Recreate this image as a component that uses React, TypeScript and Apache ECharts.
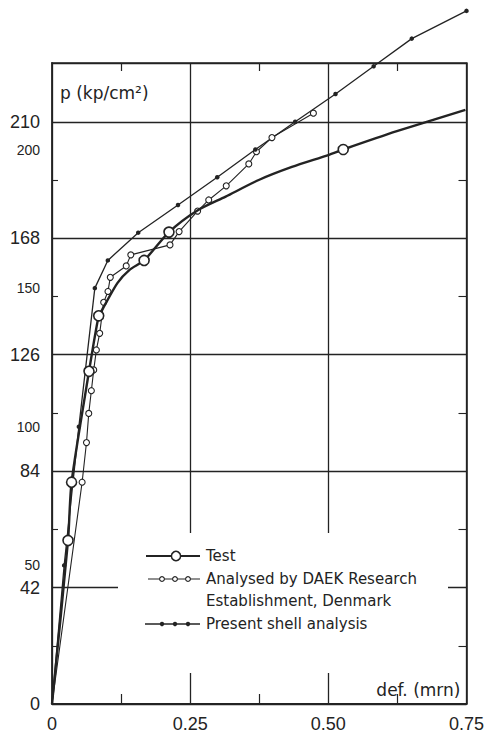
import React, { useEffect, useRef } from 'react';
import * as echarts from 'echarts';

// ---- data ----
const X_MIN = 0;
const X_MAX = 0.75;
const X_STEP = 0.25;
const Y_MAX = 231.2;
const Y_GRID_STEP = 42;
const Y_LABELS_BIG = [0, 42, 84, 126, 168, 210];
const Y_LABELS_SMALL = [50, 100, 150, 200];
const Y_TICKS_LEFT = [21, 63, 105, 147, 189];
const Y_TICKS_RIGHT = [21, 63, 105, 147, 189];

const SERIES_NAMES = ['Test', 'Analysed by DAEK Research Establishment, Denmark', 'Present shell analysis'];
const LEGEND_LINES = ['Test', 'Analysed by DAEK Research', 'Establishment, Denmark', 'Present shell analysis'];
const X_NAME = 'def. (mrn)';
const Y_NAME = 'p (kp/cm²)';

// Test (measured curve, large open circles on measured points)
const TEST_DEF = [0, 0.029, 0.0354, 0.067, 0.0845, 0.0905, 0.1183, 0.1403, 0.1667, 0.2117, 0.2631, 0.3142, 0.3741, 0.4341, 0.5, 0.527, 0.624, 0.748];
const TEST_P = [0, 59, 80, 120, 140, 142.1, 151.8, 156.6, 160, 170.2, 178, 183, 189, 193.7, 198, 200, 206.6, 214.3];
const TEST_MARK = [0, 1, 1, 1, 1, 0, 0, 0, 1, 1, 0, 0, 0, 0, 0, 1, 0, 0];

// Analysed by DAEK
const ANA_DEF = [0, 0.0545, 0.0624, 0.0665, 0.0712, 0.0755, 0.0803, 0.0863, 0.0935, 0.1013, 0.1055, 0.1343, 0.1426, 0.2135, 0.23, 0.2635, 0.2836, 0.3153, 0.3561, 0.37, 0.398, 0.473];
const ANA_P = [0, 80, 94.3, 104.8, 113, 120.5, 127.7, 133.7, 144.9, 148.8, 153.9, 158, 162, 165.6, 170.4, 177.8, 181.8, 186.9, 194.8, 199.2, 204.3, 213.1];
const ANA_MARK = [0, 1, 1, 1, 1, 1, 1, 1, 1, 1, 1, 1, 1, 1, 1, 1, 1, 1, 1, 1, 1, 1];

// Present shell analysis
const PRES_DEF = [0, 0.022, 0.0486, 0.0775, 0.101, 0.156, 0.228, 0.299, 0.368, 0.44, 0.513, 0.582, 0.651, 0.75];
const PRES_P = [0, 50, 100, 150, 160, 170, 180, 190, 200, 210, 220, 230, 240, 250];
const PRES_MARK = [0, 1, 1, 1, 1, 1, 1, 1, 1, 1, 1, 1, 1, 1];

const INK = '#232323';
const NUM_FONT = '"Liberation Sans", Arial, sans-serif';
const TXT_FONT = '"DejaVu Sans", sans-serif';

function build(def: number[], p: number[], mark: number[]) {
  return def.map((d, i) => ({ value: [d, p[i]], symbol: mark[i] ? 'circle' : 'none' }));
}

function legendText(text: string, x: number, y: number) {
  return {
    type: 'text',
    z: 6,
    silent: true,
    x,
    y,
    style: { text, font: `15px ${TXT_FONT}`, fill: INK, verticalAlign: 'middle', align: 'left' },
  };
}

export default function App() {
  const ref = useRef<HTMLDivElement>(null);

  useEffect(() => {
    if (!ref.current) return;
    const chart = echarts.init(ref.current, null, { renderer: 'svg' });

    const yBase = {
      type: 'value',
      min: 0,
      max: Y_MAX,
      interval: Y_GRID_STEP,
    };

    const openDot = (cx: number, cy: number, r: number) => ({
      type: 'circle', z: 7, silent: true, shape: { cx, cy, r }, style: { fill: '#fff', stroke: INK, lineWidth: 1.1 },
    });
    const fullDot = (cx: number, cy: number, r: number) => ({
      type: 'circle', z: 7, silent: true, shape: { cx, cy, r }, style: { fill: INK },
    });

    const option: any = {
      animation: false,
      backgroundColor: '#ffffff',
      grid: { left: 52, right: 18, top: 63, bottom: 34, containLabel: false },
      xAxis: [
        {
          type: 'value',
          min: X_MIN,
          max: X_MAX,
          interval: X_STEP,
          position: 'bottom',
          axisLine: { show: true, onZero: false, lineStyle: { color: INK, width: 1.8 } },
          axisTick: { show: false, inside: true },
          minorTick: { show: true, splitNumber: 2, length: 10, lineStyle: { color: INK, width: 1.2 } },
          axisLabel: {
            show: true,
            margin: 11,
            fontSize: 18,
            fontFamily: NUM_FONT,
            color: INK,
            showMinLabel: true,
            showMaxLabel: true,
            formatter: (v: number) => (v === 0 ? '0' : v.toFixed(2)),
          },
          splitLine: { show: true, lineStyle: { color: INK, width: 1.3 } },
          name: X_NAME,
          nameLocation: 'end',
          nameGap: -6,
          nameTextStyle: {
            fontSize: 17,
            fontFamily: TXT_FONT,
            color: INK,
            align: 'right',
            verticalAlign: 'bottom',
            padding: [0, 0, 6, 0],
          },
        },
        {
          type: 'value',
          min: X_MIN,
          max: X_MAX,
          interval: X_STEP,
          position: 'top',
          axisLine: { show: true, onZero: false, lineStyle: { color: INK, width: 1.6 } },
          axisTick: { show: false, inside: true },
          minorTick: { show: true, splitNumber: 2, length: 8, lineStyle: { color: INK, width: 1.2 } },
          axisLabel: { show: false },
          splitLine: { show: false },
        },
      ],
      yAxis: [
        {
          ...yBase,
          position: 'left',
          axisLine: { show: true, onZero: false, lineStyle: { color: INK, width: 1.8 } },
          axisTick: { show: true, inside: true, length: 6, customValues: Y_TICKS_LEFT, lineStyle: { color: INK, width: 1.1 } },
          axisLabel: {
            show: true,
            margin: 12,
            color: INK,
            customValues: [...Y_LABELS_BIG, ...Y_LABELS_SMALL].sort((a, b) => a - b),
            formatter: (v: number) => (Y_LABELS_SMALL.indexOf(v) >= 0 ? `{s|${v}}` : `{b|${v}}`),
            rich: {
              b: { fontSize: 18, fontFamily: NUM_FONT, color: INK },
              s: { fontSize: 14, fontFamily: NUM_FONT, color: INK },
            },
          },
          splitLine: { show: false },
          name: Y_NAME,
          nameLocation: 'end',
          nameGap: -30,
          nameTextStyle: {
            fontSize: 17,
            fontFamily: TXT_FONT,
            color: INK,
            align: 'left',
            verticalAlign: 'middle',
            padding: [0, 0, 0, 8],
          },
        },
        {
          ...yBase,
          position: 'right',
          axisLine: { show: true, onZero: false, lineStyle: { color: INK, width: 1.6 } },
          axisTick: { show: true, inside: true, length: 8, customValues: Y_TICKS_RIGHT, lineStyle: { color: INK, width: 1.1 } },
          axisLabel: { show: false },
          splitLine: { show: false },
        },
        {
          ...yBase,
          position: 'left',
          axisLine: { show: false },
          axisTick: { show: false },
          axisLabel: { show: false },
          splitLine: { show: true, lineStyle: { color: INK, width: 1.3 } },
        },
      ],
      graphic: {
        elements: [
          {
            type: 'rect',
            z: 1,
            silent: true,
            shape: { x: 118, y: 533, width: 330, height: 140 },
            style: { fill: '#ffffff' },
          },
          // Test
          { type: 'line', z: 6, silent: true, shape: { x1: 146, y1: 556, x2: 200, y2: 556 }, style: { stroke: INK, lineWidth: 2.2 } },
          { type: 'circle', z: 7, silent: true, shape: { cx: 176, cy: 556, r: 4.6 }, style: { fill: '#fff', stroke: INK, lineWidth: 1.5 } },
          // Analysed
          { type: 'line', z: 6, silent: true, shape: { x1: 148, y1: 579, x2: 200, y2: 579 }, style: { stroke: INK, lineWidth: 1.2 } },
          openDot(162, 579, 2.4),
          openDot(175, 579, 2.4),
          openDot(188, 579, 2.4),
          // Present
          { type: 'line', z: 6, silent: true, shape: { x1: 145, y1: 624, x2: 200, y2: 624 }, style: { stroke: INK, lineWidth: 1.3 } },
          fullDot(162, 624, 2.2),
          fullDot(175, 624, 2.2),
          fullDot(188, 624, 2.2),
          legendText(LEGEND_LINES[0], 206, 556),
          legendText(LEGEND_LINES[1], 206, 579),
          legendText(LEGEND_LINES[2], 206, 601),
          legendText(LEGEND_LINES[3], 206, 624),
        ],
      },
      series: [
        {
          name: SERIES_NAMES[0],
          type: 'line',
          xAxisIndex: 0,
          yAxisIndex: 0,
          z: 4,
          smooth: 0.25,
          data: build(TEST_DEF, TEST_P, TEST_MARK),
          symbolSize: 10,
          showAllSymbol: true,
          lineStyle: { color: INK, width: 2.4 },
          itemStyle: { color: '#ffffff', borderColor: INK, borderWidth: 1.6 },
          emphasis: { disabled: true },
          clip: false,
        },
        {
          name: SERIES_NAMES[1],
          type: 'line',
          xAxisIndex: 0,
          yAxisIndex: 0,
          z: 3,
          data: build(ANA_DEF, ANA_P, ANA_MARK),
          symbolSize: 6,
          showAllSymbol: true,
          lineStyle: { color: INK, width: 1.1 },
          itemStyle: { color: '#ffffff', borderColor: INK, borderWidth: 1.1 },
          emphasis: { disabled: true },
          clip: false,
        },
        {
          name: SERIES_NAMES[2],
          type: 'line',
          xAxisIndex: 0,
          yAxisIndex: 0,
          z: 3,
          data: build(PRES_DEF, PRES_P, PRES_MARK),
          symbolSize: 4.5,
          showAllSymbol: true,
          lineStyle: { color: INK, width: 1.3 },
          itemStyle: { color: INK },
          emphasis: { disabled: true },
          clip: false,
        },
      ],
    };

    chart.setOption(option);
    return () => chart.dispose();
  }, []);

  return (
    <div
      ref={ref}
      style={{ position: 'absolute', left: 0, top: 0, width: 487, height: 738, background: '#fff' }}
    />
  );
}
